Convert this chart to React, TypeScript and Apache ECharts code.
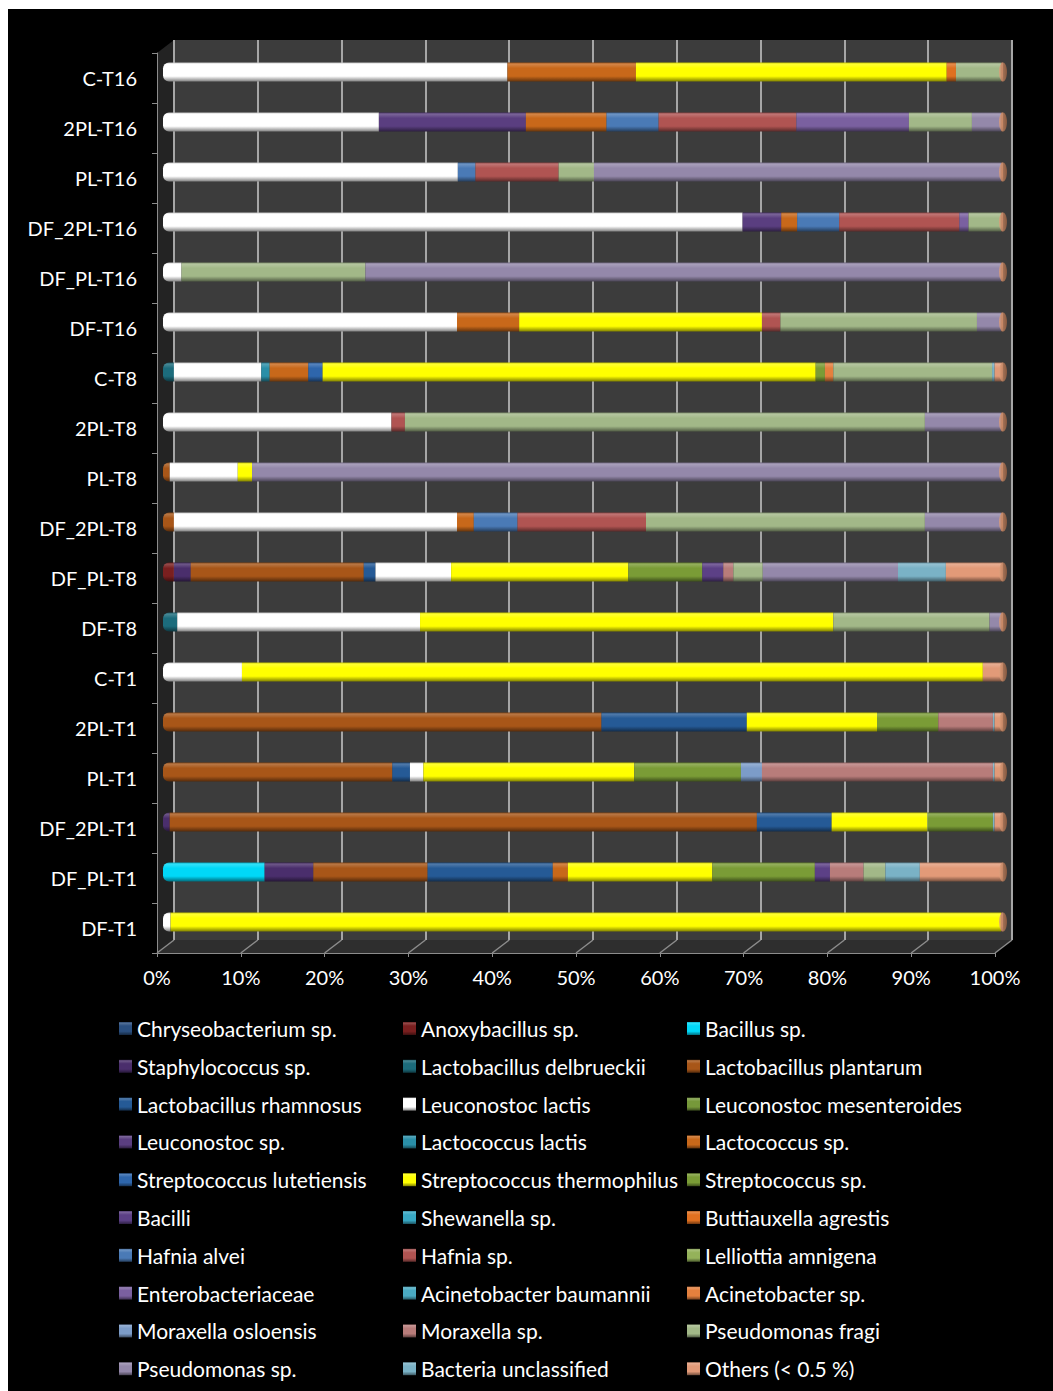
import React, { useEffect, useRef } from "react";
import * as echarts from "echarts";

// ---------- DATA ----------
const categories = [
  "C-T16", "2PL-T16", "PL-T16", "DF_2PL-T16", "DF_PL-T16", "DF-T16",
  "C-T8", "2PL-T8", "PL-T8", "DF_2PL-T8", "DF_PL-T8", "DF-T8",
  "C-T1", "2PL-T1", "PL-T1", "DF_2PL-T1", "DF_PL-T1", "DF-T1",
];

const xTickValues = [0, 10, 20, 30, 40, 50, 60, 70, 80, 90, 100];

const seriesNames = [
  "Chryseobacterium sp.", "Anoxybacillus sp.", "Bacillus sp.",
  "Staphylococcus sp.", "Lactobacillus delbrueckii", "Lactobacillus plantarum",
  "Lactobacillus rhamnosus", "Leuconostoc lactis", "Leuconostoc mesenteroides",
  "Leuconostoc sp.", "Lactococcus lactis", "Lactococcus sp.",
  "Streptococcus lutetiensis", "Streptococcus thermophilus", "Streptococcus sp.",
  "Bacilli", "Shewanella sp.", "Buttiauxella agrestis",
  "Hafnia alvei", "Hafnia sp.", "Lelliottia amnigena",
  "Enterobacteriaceae", "Acinetobacter baumannii", "Acinetobacter sp.",
  "Moraxella osloensis", "Moraxella sp.", "Pseudomonas fragi",
  "Pseudomonas sp.", "Bacteria unclassified", "Others (< 0.5 %)",
];

const seriesColors = [
  "#2a4f80", "#7a1f1f", "#00d8f8",
  "#4a2e6c", "#1c6c7c", "#a85618",
  "#255a96", "#ffffff", "#76983a",
  "#5a3e80", "#2a8fa8", "#c8681a",
  "#2e66ac", "#ffff00", "#7a9c36",
  "#5c4086", "#38a8c4", "#e07020",
  "#4a7ab6", "#b05452", "#94b25a",
  "#7a60a0", "#4aaac2", "#e4803e",
  "#7c9cc8", "#b87c7a", "#a2b888",
  "#9488aa", "#7ab2c6", "#e29a78",
];

// values per category, in the order of `categories` (top to bottom)
const chryseobacterium =      [0, 0, 0, 0, 0, 0, 0, 0, 0, 0, 0, 0, 0, 0, 0, 0, 0, 0];
const anoxybacillus =         [0, 0, 0, 0, 0, 0, 0, 0, 0, 0, 1.3, 0, 0, 0, 0, 0, 0, 0];
const bacillus =              [0, 0, 0, 0, 0, 0, 0, 0, 0, 0, 0, 0, 0, 0, 0, 0, 12.1, 0];
const staphylococcus =        [0, 0, 0, 0, 0, 0, 0, 0, 0, 0, 2.0, 0, 0, 0, 0, 0.8, 5.8, 0];
const lDelbrueckii =          [0, 0, 0, 0, 0, 0, 1.3, 0, 0, 0, 0, 1.7, 0, 0, 0, 0, 0, 0];
const lPlantarum =            [0, 0, 0, 0, 0, 0, 0, 0, 0.8, 1.3, 20.6, 0, 0, 52.2, 27.3, 69.9, 13.6, 0];
const lRhamnosus =            [0, 0, 0, 0, 0, 0, 0, 0, 0, 0, 1.4, 0, 0, 17.3, 2.1, 8.9, 14.9, 0];
const leuLactis =             [41.0, 25.7, 35.1, 69.0, 2.2, 35.0, 10.4, 27.2, 8.1, 33.7, 9.0, 28.9, 9.4, 0, 1.6, 0, 0, 0.9];
const leuMesenteroides =      [0, 0, 0, 0, 0, 0, 0, 0, 0, 0, 0, 0, 0, 0, 0, 0, 0, 0];
const leuSp =                 [0, 17.5, 0, 4.6, 0, 0, 0, 0, 0, 0, 0, 0, 0, 0, 0, 0, 0, 0];
const lactococcusLactis =     [0, 0, 0, 0, 0, 0, 1.0, 0, 0, 0, 0, 0, 0, 0, 0, 0, 0, 0];
const lactococcusSp =         [15.3, 9.6, 0, 1.9, 0, 7.4, 4.6, 0, 0, 2.0, 0, 0, 0, 0, 0, 0, 1.8, 0];
const sLutetiensis =          [0, 0, 0, 0, 0, 0, 1.7, 0, 0, 0, 0, 0, 0, 0, 0, 0, 0, 0];
const sThermophilus =         [37.0, 0, 0, 0, 0, 28.9, 58.7, 0, 1.7, 0, 21.1, 49.2, 88.2, 15.5, 25.1, 11.4, 17.2, 98.9];
const streptococcusSp =       [0, 0, 0, 0, 0, 0, 1.1, 0, 0, 0, 8.8, 0, 0, 7.3, 12.7, 7.8, 12.2, 0];
const bacilli =               [0, 0, 0, 0, 0, 0, 0, 0, 0, 0, 2.5, 0, 0, 0, 0, 0, 1.8, 0];
const shewanella =            [0, 0, 0, 0, 0, 0, 0, 0, 0, 0, 0, 0, 0, 0, 0, 0, 0, 0];
const buttiauxella =          [1.1, 0, 0, 0, 0, 0, 0, 0, 0, 0, 0, 0, 0, 0, 0, 0, 0, 0];
const hafniaAlvei =           [0, 6.2, 2.1, 5.0, 0, 0, 0, 0, 0, 5.2, 0, 0, 0, 0, 0, 0, 0, 0];
const hafniaSp =              [0, 16.4, 9.9, 14.3, 0, 2.2, 0, 1.6, 0, 15.3, 0, 0, 0, 0, 0, 0, 0, 0];
const lelliottia =            [0, 0, 0, 0, 0, 0, 0, 0, 0, 0, 0, 0, 0, 0, 0, 0, 0, 0];
const enterobacteriaceae =    [0, 13.4, 0, 1.1, 0, 0, 0, 0, 0, 0, 0, 0, 0, 0, 0, 0, 0, 0];
const acinetobacterBaum =     [0, 0, 0, 0, 0, 0, 0, 0, 0, 0, 0, 0, 0, 0, 0, 0, 0, 0];
const acinetobacterSp =       [0, 0, 0, 0, 0, 0, 1.0, 0, 0, 0, 0, 0, 0, 0, 0, 0, 0, 0];
const moraxellaOsloensis =    [0, 0, 0, 0, 0, 0, 0, 0, 0, 0, 0, 0, 0, 0, 2.5, 0, 0, 0];
const moraxellaSp =           [0, 0, 0, 0, 0, 0, 0, 0, 0, 0, 1.2, 0, 0, 6.5, 27.5, 0, 4.0, 0];
const pseudomonasFragi =      [5.4, 7.5, 4.2, 3.9, 21.9, 23.4, 18.9, 61.9, 0, 33.2, 3.5, 18.6, 0, 0, 0, 0, 2.6, 0];
const pseudomonasSp =         [0, 3.5, 48.5, 0, 75.7, 2.9, 0, 9.1, 89.2, 9.1, 16.1, 1.4, 0, 0, 0, 0, 0, 0];
const bacteriaUnclassified =  [0, 0, 0, 0, 0, 0, 0.3, 0, 0, 0, 5.7, 0, 0, 0.2, 0.2, 0.2, 4.1, 0];
const others =                [0.2, 0.2, 0.2, 0.2, 0.2, 0.2, 1.0, 0.2, 0.2, 0.2, 6.8, 0.2, 2.4, 1.0, 1.0, 1.0, 9.9, 0.2];

const seriesValues = [
  chryseobacterium, anoxybacillus, bacillus,
  staphylococcus, lDelbrueckii, lPlantarum,
  lRhamnosus, leuLactis, leuMesenteroides,
  leuSp, lactococcusLactis, lactococcusSp,
  sLutetiensis, sThermophilus, streptococcusSp,
  bacilli, shewanella, buttiauxella,
  hafniaAlvei, hafniaSp, lelliottia,
  enterobacteriaceae, acinetobacterBaum, acinetobacterSp,
  moraxellaOsloensis, moraxellaSp, pseudomonasFragi,
  pseudomonasSp, bacteriaUnclassified, others,
];

// ---------- STYLE HELPERS ----------
function mix(hex: string, target: string, t: number) {
  const p = (h: string) => [1, 3, 5].map((i) => parseInt(h.slice(i, i + 2), 16));
  const a = p(hex);
  const b = p(target);
  const c = a.map((v, i) => Math.round(v + (b[i] - v) * t));
  return "#" + c.map((v) => v.toString(16).padStart(2, "0")).join("");
}

function cylinder(c: string) {
  return new echarts.graphic.LinearGradient(0, 0, 0, 1, [
    { offset: 0, color: mix(c, "#000000", 0.25) },
    { offset: 0.08, color: mix(c, "#ffffff", 0.2) },
    { offset: 0.3, color: c },
    { offset: 0.72, color: c },
    { offset: 1, color: mix(c, "#000000", 0.5) },
  ]);
}

// layout (chart coordinates)
const BACK = { left: 166, top: 31, width: 838, height: 900 };
const BARS = { left: 155, top: 38, width: 840, height: 900 };
const FRONT = { left: 149, top: 44, width: 838, height: 900 };

export default function App() {
  const ref = useRef<HTMLDivElement>(null);

  useEffect(() => {
    if (!ref.current) return;
    const chart = echarts.init(ref.current, undefined, { renderer: "svg" });

    // first non-zero series for each category (to round the left end)
    const firstIdx = categories.map((_, ci) =>
      seriesValues.findIndex((arr) => arr[ci] > 0)
    );

    const barSeries = seriesNames.map((name, si) => ({
      type: "bar",
      name,
      stack: "total",
      xAxisIndex: 1,
      yAxisIndex: 1,
      barWidth: 19,
      z: 3,
      silent: true,
      itemStyle: { color: cylinder(seriesColors[si]) },
      data: seriesValues[si].map((v, ci) =>
        firstIdx[ci] === si
          ? { value: v, itemStyle: { borderRadius: [6, 0, 0, 6] } }
          : v
      ),
    }));

    const capSeries = {
      type: "scatter",
      name: "cap",
      xAxisIndex: 1,
      yAxisIndex: 1,
      symbol: "circle",
      symbolSize: [8, 19],
      z: 5,
      silent: true,
      itemStyle: {
        color: new echarts.graphic.LinearGradient(0, 0, 1, 0, [
          { offset: 0, color: "#e0a07c" },
          { offset: 1, color: "#9a6040" },
        ]),
      },
      data: categories.map((c) => [100, c]),
    };

    const step = FRONT.width / 100;
    const backStep = BACK.width / 100;
    const frontBottom = FRONT.top + FRONT.height;
    const backBottom = BACK.top + BACK.height;

    const floorLines = xTickValues.map((v) => ({
      type: "line",
      z: 1,
      silent: true,
      shape: {
        x1: FRONT.left + v * step,
        y1: frontBottom,
        x2: BACK.left + v * backStep,
        y2: backBottom,
      },
      style: { stroke: "#8c8c8c", lineWidth: 1.5 },
    }));

    const legendCols = [0, 1, 2].map((c) => ({
      orient: "vertical",
      left: [111, 395, 679][c],
      top: 1009,
      height: 380,
      padding: 0,
      itemWidth: 13,
      itemHeight: 13,
      itemGap: 16.8,
      icon: "rect",
      selectedMode: false,
      data: seriesNames.filter((_, i) => i % 3 === c),
      textStyle: { color: "#ffffff", fontSize: 21, fontFamily: "Lato", lineHeight: 20 },
    }));

    chart.setOption({
      animation: false,
      backgroundColor: "#000000",
      textStyle: { fontFamily: "Lato" },
      graphic: {
        elements: [
          {
            type: "polygon",
            z: 0,
            silent: true,
            shape: {
              points: [
                [FRONT.left, FRONT.top],
                [BACK.left, BACK.top],
                [BACK.left, backBottom],
                [FRONT.left, frontBottom],
              ],
            },
            style: { fill: "#232323" },
          },
          {
            type: "polygon",
            z: 0,
            silent: true,
            shape: {
              points: [
                [FRONT.left, frontBottom],
                [BACK.left, backBottom],
                [BACK.left + BACK.width, backBottom],
                [FRONT.left + FRONT.width, frontBottom],
              ],
            },
            style: { fill: "#2e2e2e" },
          },
          ...floorLines,
        ],
      },
      grid: [
        { ...BACK, show: true, backgroundColor: "#3c3c3c", borderWidth: 0 },
        { ...BARS },
        { ...FRONT },
      ],
      xAxis: [
        {
          gridIndex: 0,
          type: "value",
          min: 0,
          max: 100,
          interval: 10,
          axisLabel: { show: false },
          axisLine: { show: false },
          axisTick: { show: false },
          splitLine: { show: true, lineStyle: { color: "#a6a6a6", width: 2 } },
        },
        { gridIndex: 1, type: "value", min: 0, max: 100, show: false },
        {
          gridIndex: 2,
          type: "value",
          min: 0,
          max: 100,
          interval: 10,
          axisLabel: { formatter: "{value}%", color: "#ffffff", fontSize: 20, margin: 14, fontFamily: "Lato" },
          axisLine: { show: true, lineStyle: { color: "#8c8c8c" } },
          axisTick: { show: true, length: 4, lineStyle: { color: "#8c8c8c" } },
          splitLine: { show: false },
        },
      ],
      yAxis: [
        { gridIndex: 0, type: "category", data: categories, inverse: true, show: false },
        { gridIndex: 1, type: "category", data: categories, inverse: true, show: false },
        {
          gridIndex: 2,
          type: "category",
          data: categories,
          inverse: true,
          axisLabel: { color: "#ffffff", fontSize: 20, margin: 20, fontFamily: "Lato" },
          axisLine: { show: true, lineStyle: { color: "#8c8c8c" } },
          axisTick: { show: true, length: 5, lineStyle: { color: "#8c8c8c" } },
          splitLine: { show: false },
        },
      ],
      legend: legendCols,
      series: [...barSeries, capSeries],
    });

    return () => chart.dispose();
  }, []);

  return (
    <div
      ref={ref}
      style={{
        position: "fixed",
        left: 8,
        top: 9,
        width: 1045,
        height: 1382,
        background: "#000000",
      }}
    />
  );
}
